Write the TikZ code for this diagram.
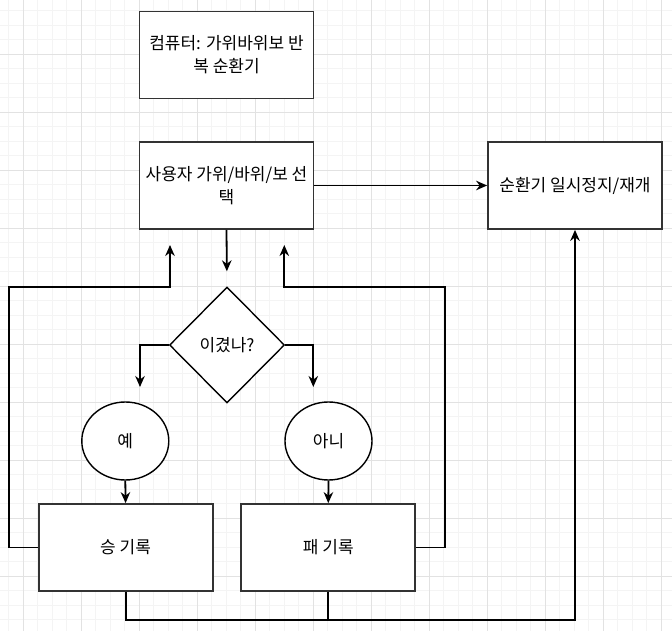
\documentclass[tikz,border=0pt]{standalone}
\usepackage{fontspec}
\setmainfont{Noto Sans CJK KR}
\usepackage{xcolor}
\definecolor{gridminor}{RGB}{244,244,244}
\definecolor{gridmajor}{RGB}{226,226,226}
\definecolor{boxline}{RGB}{51,51,51}
\usetikzlibrary{arrows.meta,shapes.geometric,calc}

\tikzset{
  stepbox/.style={draw=boxline, line width=1.8pt, fill=white, minimum width=174pt,
    minimum height=87pt, inner sep=2pt, align=center, font=\fontsize{17}{23}\selectfont},
  decision/.style={diamond, draw=black, line width=1.4pt, fill=white, minimum width=115pt,
    minimum height=116pt, inner sep=0pt, font=\fontsize{17}{18}\selectfont},
  answer/.style={ellipse, draw=black, line width=1.4pt, fill=white, minimum width=87pt,
    minimum height=78pt, inner sep=0pt, font=\fontsize{17}{18}\selectfont},
  flow/.style={line width=1.8pt, black},
  flowarrow/.style={flow, -{Stealth[length=11pt,width=9.5pt]}}
}

\begin{document}
\begin{tikzpicture}[x=1pt, y=-1pt]
  \useasboundingbox (0,0) rectangle (672,631);
  % Background grid
  \foreach \i in {0,...,46} \draw[gridminor, line width=0.8pt] ({8.8+14.5*\i},0) -- ++(0,631);
  \foreach \i in {0,...,43} \draw[gridminor, line width=0.8pt] (0,{10.8+14.5*\i}) -- ++(672,0);
  \foreach \i in {0,...,11} \draw[gridmajor, line width=0.8pt] ({23.3+58*\i},0) -- ++(0,631);
  \foreach \i in {-1,...,10} \draw[gridmajor, line width=0.8pt] (0,{54.3+58*\i}) -- ++(672,0);

  % Boxes
  \node[stepbox] (title) at (226.5,55) {컴퓨터: 가위바위보 반\\복 순환기};
  \node[stepbox] (select) at (226.5,185.5) {사용자 가위/바위/보 선\\택};
  \node[stepbox] (pause) at (575,185.5) {순환기 일시정지/재개};
  \node[decision] (won) at (227,345) {이겼나?};
  \node[answer] (yes) at (125.3,441) {예};
  \node[answer] (no) at (328.5,441) {아니};
  \node[stepbox] (winrec) at (125.6,547.5) {승 기록};
  \node[stepbox] (loserec) at (328.3,547.5) {패 기록};

  % Loose ends
  \coordinate (yesin) at (140,387);
  \coordinate (noin) at (313.3,387);
  \coordinate (winback) at (170,245);
  \coordinate (loseback) at (284.3,245);

  % Connectors
  \draw[flowarrow, shorten >=15pt] (select.south) -- (won.north);
  \draw[flowarrow] (won.west) -| (yesin);
  \draw[flowarrow] (won.east) -| (noin);
  \draw[flowarrow] (yes.south) -- (winrec.north);
  \draw[flowarrow] (no.south) -- (loserec.north);
  \draw[flowarrow] (winrec.west) -- ++(-29,0) |- (170,287) -- (winback);
  \draw[flowarrow] (loserec.east) -- ++(29,0) |- (284.3,287) -- (loseback);
  \draw[flowarrow] (select.east) -- (pause.west);
  \draw[flowarrow] (winrec.south) |- (575,620.3) -- (pause.south);
  \draw[flow] (loserec.south) -- (loserec.south |- 0,620.3);
\end{tikzpicture}
\end{document}
